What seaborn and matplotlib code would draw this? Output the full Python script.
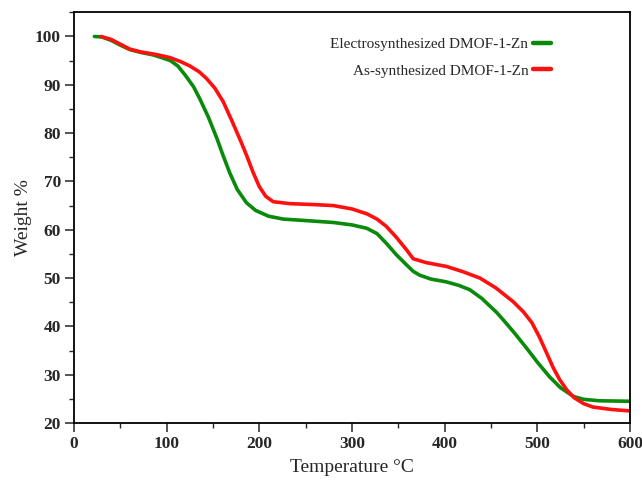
import numpy as np
import pandas as pd
import matplotlib
matplotlib.use("Agg")
import matplotlib.pyplot as plt
from matplotlib.ticker import MultipleLocator
import seaborn as sns

series_names = ["Electrosynthesized DMOF-1-Zn", "As-synthesized DMOF-1-Zn"]
series_colors = ["#0a8a0a", "#ff1010"]

T_green = [22, 30, 40, 50, 60, 72, 85, 95, 104, 112, 120, 129, 136, 145, 154, 161,
           168, 176, 186, 196, 210, 226, 250, 280, 300, 316, 327, 337, 348, 359, 366,
           373, 385, 402, 415, 427, 440, 456, 463, 475, 488, 500, 513, 525, 539, 550,
           567, 600]
W_green = [100.0, 99.9, 99.2, 98.2, 97.3, 96.7, 96.2, 95.6, 95.0, 93.9, 92.0, 89.6,
           87.0, 83.3, 79.0, 75.3, 71.8, 68.4, 65.6, 64.0, 62.8, 62.2, 61.9, 61.5,
           61.0, 60.3, 59.2, 57.2, 54.8, 52.7, 51.4, 50.6, 49.8, 49.2, 48.5, 47.6,
           45.8, 42.9, 41.4, 38.7, 35.6, 32.6, 29.6, 27.3, 25.5, 24.9, 24.6, 24.5]

T_red = [29, 40, 50, 60, 72, 85, 95, 104, 115, 125, 135, 143, 152, 161, 170, 180,
         186, 193, 200, 207, 215, 233, 260, 280, 300, 316, 327, 337, 348, 359, 366,
         380, 402, 420, 438, 455, 474, 485, 494, 502, 510, 517, 524, 532, 540, 550,
         560, 580, 600]
W_red = [100.0, 99.4, 98.4, 97.4, 96.8, 96.4, 96.0, 95.6, 94.8, 93.9, 92.7, 91.3,
         89.3, 86.5, 82.7, 78.3, 75.5, 72.0, 68.9, 66.9, 65.8, 65.4, 65.2, 65.0,
         64.3, 63.3, 62.2, 60.7, 58.4, 55.8, 54.0, 53.2, 52.4, 51.3, 50.0, 48.0,
         45.1, 43.0, 40.8, 37.9, 34.5, 31.5, 29.0, 26.8, 25.2, 24.0, 23.3, 22.8, 22.5]

x_ticks = [0, 100, 200, 300, 400, 500, 600]
y_ticks = [20, 30, 40, 50, 60, 70, 80, 90, 100]

df = pd.concat([
    pd.DataFrame({"T": T_green, "W": W_green, "Sample": series_names[0]}),
    pd.DataFrame({"T": T_red, "W": W_red, "Sample": series_names[1]}),
], ignore_index=True)

sns.set_theme(style="ticks")
plt.rcParams["font.family"] = ["Liberation Serif", "DejaVu Serif"]

fig = plt.figure(figsize=(6.42, 4.83), dpi=100)
ax = fig.add_axes([0.1153, 0.1242, 0.866, 0.8503])

sns.lineplot(data=df, x="T", y="W", hue="Sample", hue_order=series_names,
             palette=dict(zip(series_names, series_colors)), sort=False,
             estimator=None, linewidth=2.6, ax=ax)

ax.set_xlim(0, 600)
ax.set_ylim(20, 105)
ax.set_xticks(x_ticks)
ax.set_yticks(y_ticks)
ax.xaxis.set_minor_locator(MultipleLocator(50))
ax.yaxis.set_minor_locator(MultipleLocator(5))
ax.tick_params(which="major", direction="out", length=6.5, width=1.1,
               labelsize=12.5, top=False, right=False, pad=3)
ax.tick_params(which="minor", direction="out", length=3.6, width=1.0,
               top=False, right=False)
for lab in ax.get_xticklabels() + ax.get_yticklabels():
    lab.set_fontweight("bold")
for sp in ax.spines.values():
    sp.set_visible(True)
    sp.set_linewidth(1.3)
    sp.set_color("black")

ax.set_xlabel("Temperature °C", fontsize=14, labelpad=5)
ax.set_ylabel("Weight %", fontsize=14, labelpad=2)

handles, labels = ax.get_legend_handles_labels()
leg = ax.legend(handles, labels, loc="upper right", bbox_to_anchor=(0.872, 0.958),
                frameon=False, markerfirst=False, fontsize=11, handlelength=1.2,
                handletextpad=0.3, borderpad=0, labelspacing=0.85)
for h in leg.get_lines():
    h.set_linewidth(3.2)

fig.savefig("out.png", dpi=100)
